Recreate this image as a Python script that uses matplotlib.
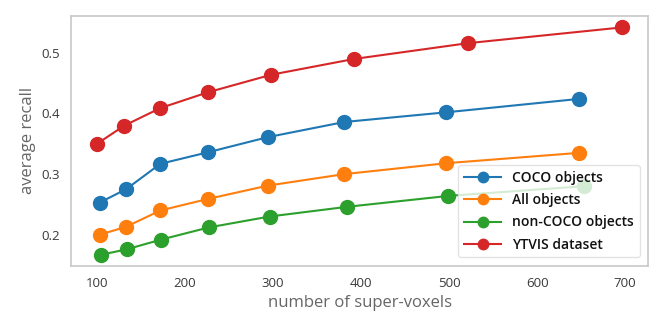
import matplotlib
matplotlib.use('Agg')
import matplotlib.pyplot as plt

# values
coco_x = [103, 133, 172, 226, 294, 381, 497, 647]
coco_y = [0.253, 0.275, 0.317, 0.336, 0.361, 0.386, 0.402, 0.424]
all_x = [103, 133, 172, 226, 294, 381, 497, 647]
all_y = [0.200, 0.213, 0.240, 0.259, 0.281, 0.300, 0.318, 0.335]
noncoco_x = [105, 134, 173, 227, 296, 384, 499, 653]
noncoco_y = [0.167, 0.176, 0.192, 0.212, 0.230, 0.246, 0.264, 0.280]
ytvis_x = [100, 131, 172, 226, 298, 392, 521, 696]
ytvis_y = [0.350, 0.380, 0.409, 0.435, 0.464, 0.490, 0.516, 0.542]

plt.rcParams['font.family'] = ['Open Sans', 'DejaVu Sans']

fig, ax = plt.subplots(figsize=(6.64, 3.32), dpi=100)
fig.subplots_adjust(left=0.107, right=0.976, top=0.952, bottom=0.2)

ax.plot(coco_x, coco_y, '-o', color='#1f77b4', ms=10, lw=1.5, label='COCO objects')
ax.plot(all_x, all_y, '-o', color='#ff7f0e', ms=10, lw=1.5, label='All objects')
ax.plot(noncoco_x, noncoco_y, '-o', color='#2ca02c', ms=10, lw=1.5, label='non-COCO objects')
ax.plot(ytvis_x, ytvis_y, '-o', color='#d62728', ms=10, lw=1.5, label='YTVIS dataset')

ax.set_xlim(70.5, 726)
ax.set_ylim(0.149, 0.561)
ax.set_xticks([100, 200, 300, 400, 500, 600, 700])
ax.set_yticks([0.2, 0.3, 0.4, 0.5])
ax.tick_params(length=0, labelsize=9.5, labelcolor='#3a3a3a', pad=8)
for lab in ax.get_xticklabels() + ax.get_yticklabels():
    lab.set_fontweight('medium')
for s in ax.spines.values():
    s.set_color('#c8c8c8')
    s.set_linewidth(1.2)

ax.set_xlabel('number of super-voxels', fontsize=12, color='#666666')
ax.set_ylabel('average recall', fontsize=12, color='#666666')

leg = ax.legend(loc='lower right', fontsize=10, framealpha=0.8,
                edgecolor='#dddddd', borderaxespad=0.6, handlelength=2.7,
                markerscale=0.75, labelspacing=0.6)
for t in leg.get_texts():
    t.set_color('#111111')
    t.set_fontweight('semibold')

fig.savefig('out.png', dpi=100)
